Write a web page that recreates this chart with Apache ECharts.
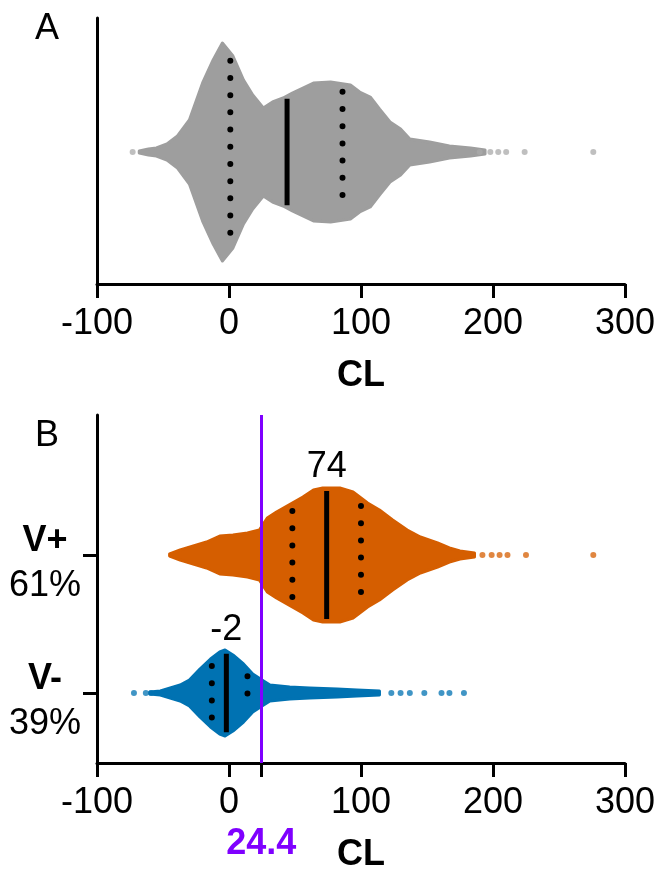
<!DOCTYPE html>
<html>
<head>
<meta charset="utf-8">
<script src="https://cdn.jsdelivr.net/npm/echarts@6/dist/echarts.min.js"></script>
<style>
html, body { margin: 0; padding: 0; background: #fff; }
#main { width: 658px; height: 876px; }
</style>
</head>
<body>
<div id="main"></div>
<script>
// 横轴刻度
const xTicks = [-100, 0, 100, 200, 300]
const cutoff = 24.4

// A: 全部样本，分布轮廓 (CL, 半宽)
const allX = [-68, -61, -55, -47, -39, -30, -20, -12, -5, 3, 11, 18, 26, 33, 41, 48, 56, 64, 77, 92, 99, 107, 114, 122, 130, 137, 152, 167, 183, 194]
const allW = [1, 3, 4, 8, 16, 32, 69, 92, 109, 96, 72, 57, 44, 50, 54, 59, 64, 69, 70, 67, 60, 55, 43, 30, 23, 13, 10, 6, 4, 2]
const allOut = [-73, 190, 198, 204, 210, 224, 276]
const allMedian = 44
const allQuart = [1, 86]

// B: V+ 组
const posX = [-45, -37, -27, -17, -7, 3, 14, 23, 29, 36, 48, 56, 64, 71, 84, 94, 105, 114, 124, 135, 145, 158, 167, 175, 186]
const posW = [1, 5, 9, 13, 19, 20, 22, 25, 37, 43, 52, 58, 65, 67, 67, 63, 52, 45, 35, 25, 18, 12, 7, 4, 2]
const posOut = [192, 199, 205, 211, 225, 276]
const posMedian = 74
const posQuart = [48, 100]

// B: V- 组
const negX = [-60, -52, -47, -37, -30, -22, -14, -7, -3, 3, 11, 18, 25, 31, 46, 61, 82, 97, 114]
const negW = [1, 2, 4, 8, 13, 24, 34, 41, 43, 38, 29, 19, 13, 8, 6, 5, 4, 3, 2]
const negOut = [-72, -63, -59, 123, 130, 137, 148, 161, 167, 178]
const negMedian = -2
const negQuart = [-13, 14]

const groups = ['V+', 'V-']
const shares = ['61%', '39%']

const font = 'Liberation Sans, Arial, sans-serif'
const gray = '#9e9e9e', orange = '#d55e00', blue = '#0072b2', purple = '#7f00ff'

// 中心位置 (纵轴单位)
const centerA = 0, centerPos = 208, centerNeg = 70

// 轮廓上某一 x 处的半宽
function halfAt(xs, ws, x) {
    for (let i = 1; i < xs.length; i++) {
        if (x <= xs[i]) {
            let t = (x - xs[i - 1]) / (xs[i] - xs[i - 1])
            return ws[i - 1] + t * (ws[i] - ws[i - 1])
        }
    }
    return ws[ws.length - 1]
}

function violin(xs, ws, c, color, idx) {
    return {
        type: 'custom',
        xAxisIndex: idx, yAxisIndex: idx,
        silent: true,
        data: [[xs[0], c]],
        renderItem: function (params, api) {
            let pts = []
            for (let i = 0; i < xs.length; i++) pts.push(api.coord([xs[i], c + ws[i]]))
            for (let i = xs.length - 1; i >= 0; i--) pts.push(api.coord([xs[i], c - ws[i]]))
            return {
                type: 'polygon',
                shape: { points: pts },
                style: { fill: color, stroke: color, lineWidth: 3, lineJoin: 'round' }
            }
        }
    }
}

function outliers(vals, c, color, idx) {
    return {
        type: 'scatter', xAxisIndex: idx, yAxisIndex: idx, silent: true,
        symbolSize: 6,
        itemStyle: { color: color, opacity: 0.75 },
        data: vals.map(v => [v, c])
    }
}

function medianLine(xs, ws, m, c, idx, withLabel) {
    let s = halfAt(xs, ws, m) - 3
    let list = [{
        type: 'line', xAxisIndex: idx, yAxisIndex: idx, silent: true,
        symbol: 'none',
        lineStyle: { color: '#000', width: 5 },
        data: [[m, c + s], [m, c - s]]
    }]
    if (withLabel) {
        // 中位数标注
        list.push({
            type: 'custom', xAxisIndex: idx, yAxisIndex: idx, silent: true,
            data: [[m, c + s]],
            renderItem: function (params, api) {
                let p = api.coord([api.value(0), api.value(1)])
                return {
                    type: 'text',
                    style: {
                        text: String(m), x: p[0], y: p[1] - 6,
                        align: 'center', verticalAlign: 'bottom',
                        fill: '#000', font: '36px ' + font
                    }
                }
            }
        })
    }
    return list
}

function quartLines(xs, ws, qs, c, idx) {
    return qs.map(q => {
        let s = halfAt(xs, ws, q) - 8
        return {
            type: 'line', xAxisIndex: idx, yAxisIndex: idx, silent: true,
            symbol: 'none',
            lineStyle: { color: '#000', width: 6, type: [0, 17.2], cap: 'round' },
            data: [[q, c + s], [q, c - s]]
        }
    })
}

function xAxisOf(idx, ticks) {
    return {
        gridIndex: idx, type: 'value', min: -100, max: 300, interval: 100,
        name: 'CL', nameLocation: 'middle', nameGap: 74,
        nameTextStyle: { fontSize: 36, fontWeight: 'bold', color: '#000', fontFamily: font },
        axisLine: { onZero: false, lineStyle: { color: '#000', width: 3 } },
        axisTick: { length: 14, lineStyle: { color: '#000', width: 3 }, customValues: ticks },
        axisLabel: { fontSize: 36, color: '#000', fontFamily: font, margin: 22, showMinLabel: true, showMaxLabel: true, customValues: xTicks },
        splitLine: { show: false }
    }
}

let series = []
series.push(violin(allX, allW, centerA, gray, 0))
series.push(outliers(allOut, centerA, '#aaaaaa', 0))
series.push(...quartLines(allX, allW, allQuart, centerA, 0))
series.push(...medianLine(allX, allW, allMedian, centerA, 0, false))

series.push(violin(posX, posW, centerPos, orange, 1))
series.push(outliers(posOut, centerPos, orange, 1))
series.push(violin(negX, negW, centerNeg, blue, 1))
series.push(outliers(negOut, centerNeg, blue, 1))
series.push(...quartLines(posX, posW, posQuart, centerPos, 1))
series.push(...medianLine(posX, posW, posMedian, centerPos, 1, true))
series.push(...quartLines(negX, negW, negQuart, centerNeg, 1))
series.push(...medianLine(negX, negW, negMedian, centerNeg, 1, true))

// 阈值线 24.4
series.push({
    type: 'line', xAxisIndex: 1, yAxisIndex: 1, data: [], silent: true,
    markLine: {
        silent: true, symbol: 'none', animation: false,
        lineStyle: { color: purple, width: 3, type: 'solid' },
        label: {
            show: true, position: 'start', distance: 63, formatter: String(cutoff),
            fontSize: 36, fontWeight: 'bold', color: purple, fontFamily: font
        },
        data: [{ xAxis: cutoff }]
    }
})

let myChart = echarts.init(document.getElementById('main'), null, { renderer: 'canvas' })
myChart.setOption({
    animation: false,
    backgroundColor: '#fff',
    title: [
        { text: 'A', left: 30, top: 6, textStyle: { fontSize: 36, fontWeight: 'normal', color: '#000', fontFamily: font } },
        { text: 'B', left: 30, top: 413, textStyle: { fontSize: 36, fontWeight: 'normal', color: '#000', fontFamily: font } }
    ],
    grid: [
        { left: 97, right: 33, top: 18, height: 266 },
        { left: 97, right: 33, top: 415, height: 348 }
    ],
    xAxis: [xAxisOf(0, xTicks), xAxisOf(1, [-100, 0, cutoff, 100, 200, 300])],
    yAxis: [
        {
            gridIndex: 0, type: 'value', min: -132, max: 134,
            axisLine: { show: true, onZero: false, lineStyle: { color: '#000', width: 3 } },
            axisTick: { show: false }, axisLabel: { show: false }, splitLine: { show: false }
        },
        {
            gridIndex: 1, type: 'value', min: 0, max: 348,
            axisLine: { show: true, onZero: false, lineStyle: { color: '#000', width: 3 } },
            axisTick: { show: true, length: 14, lineStyle: { color: '#000', width: 3 }, customValues: [centerPos, centerNeg] },
            axisLabel: {
                show: true, customValues: [centerPos, centerNeg], align: 'center', margin: 52,
                padding: [18, 0, 0, 0],
                formatter: function (v) {
                    let i = v === centerPos ? 0 : 1
                    return '{g|' + groups[i] + '}\n{p|' + shares[i] + '}'
                },
                rich: {
                    g: { fontSize: 36, fontWeight: 'bold', color: '#000', fontFamily: font, lineHeight: 45, align: 'center' },
                    p: { fontSize: 36, color: '#000', fontFamily: font, lineHeight: 45, align: 'center' }
                }
            },
            splitLine: { show: false }
        }
    ],
    series: series
})
</script>
</body>
</html>
